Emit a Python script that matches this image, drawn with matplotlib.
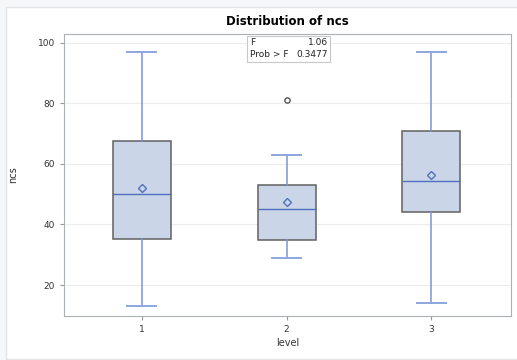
import matplotlib.pyplot as plt
from matplotlib.patches import Rectangle

# five-number summaries
levels = ['1', '2', '3']
whislo = [13, 29, 14.2]
q1 = [35.1, 35, 44]
med = [50, 45, 54.2]
q3 = [67.6, 53, 70.9]
whishi = [97, 63, 97]
means = [52.1, 47.4, 56.2]
outliers = [[], [81], []]

f_value = 1.06
p_value = 0.3477

stats = []
for i in range(len(levels)):
    stats.append(dict(label=levels[i], whislo=whislo[i], q1=q1[i], med=med[i],
                      q3=q3[i], whishi=whishi[i], mean=means[i], fliers=outliers[i]))

fig = plt.figure(figsize=(5.17, 3.6), dpi=100)
fig.patch.set_facecolor('#f6f7f9')
fig.patches.append(Rectangle((6 / 517, 1 / 360), 1.2, 352 / 360, transform=fig.transFigure,
                             facecolor='white', edgecolor='#e2e4e8', lw=1, zorder=-1))

ax = fig.add_axes([64 / 517, 1 - 316 / 360, 447 / 517, 282.5 / 360])
blue = '#4f6fbf'
ax.bxp(stats, positions=[1, 2, 3], widths=0.4, patch_artist=True, showmeans=True,
       boxprops=dict(facecolor='#cad6e8', edgecolor='#606060', lw=1.1),
       medianprops=dict(color=blue, lw=1.0),
       whiskerprops=dict(color='#7b96d6', lw=1.1),
       capprops=dict(color='#8ea6dd', lw=1.4),
       meanprops=dict(marker='D', markerfacecolor='none', markeredgecolor=blue,
                      markersize=4.2, markeredgewidth=1.0),
       flierprops=dict(marker='o', markerfacecolor='none', markeredgecolor='#555555',
                       markersize=3.8))

ax.set_xlim(0.462, 3.55)
ax.set_ylim(9.8, 103)
ax.set_yticks([20, 40, 60, 80, 100])
ax.grid(axis='y', color='#ececec', lw=0.8)
ax.set_axisbelow(True)
for s in ax.spines.values():
    s.set_color('#aab0b4')
ax.tick_params(labelsize=6.5, colors='#333333', length=3, color='#999999')
ax.set_xlabel('level', fontsize=7, color='#333333', labelpad=3)
ax.set_ylabel('ncs', fontsize=7, color='#333333', labelpad=14)
ax.set_title('Distribution of ncs', fontsize=8.5, fontweight='bold', pad=6)

# F test inset
ax.add_patch(Rectangle((0.409, 0.899), 0.186, 0.092, transform=ax.transAxes,
                       facecolor='white', edgecolor='#c8c8c8', lw=0.8, zorder=5))
ax.text(0.416, 0.984, 'F\nProb > F', transform=ax.transAxes, fontsize=6.5, va='top',
        ha='left', linespacing=1.4, color='#222222', zorder=6)
ax.text(0.590, 0.984, f'{f_value:.2f}\n{p_value:.4f}', transform=ax.transAxes, fontsize=6.5,
        va='top', ha='right', linespacing=1.4, color='#222222', zorder=6)

fig.savefig('out.png', dpi=100, facecolor=fig.get_facecolor())
